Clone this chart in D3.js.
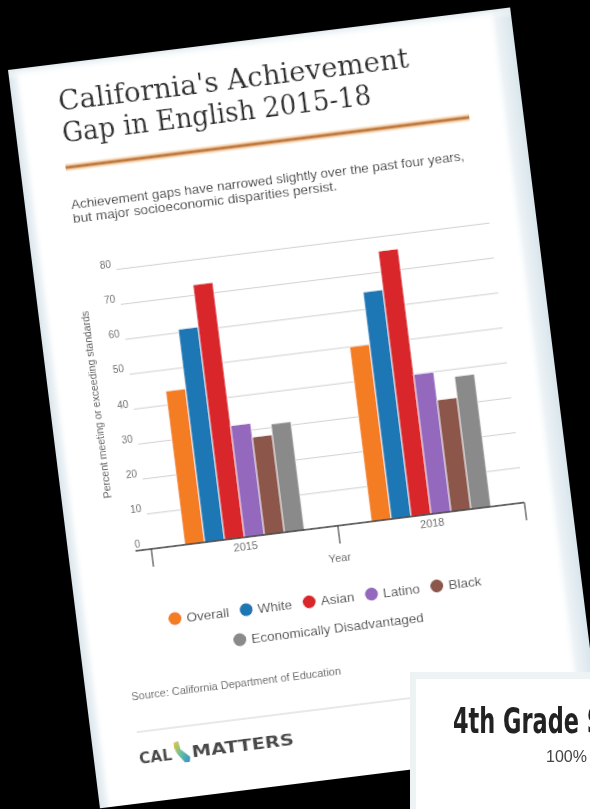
<!DOCTYPE html>
<html><head><meta charset="utf-8">
<script src="https://cdn.jsdelivr.net/npm/d3@7"></script>
<style>html,body{margin:0;padding:0;background:#000;} svg{display:block}</style>
</head><body>
<svg id="c" width="590" height="809"></svg>
<script>
// ---- data ----
const categories = ["2015", "2018"];
const seriesNames = ["Overall", "White", "Asian", "Latino", "Black", "Economically Disadvantaged"];
const overall = [44, 50];
const white = [61, 65];
const asian = [73, 76];
const latino = [32, 40];
const black = [28, 32];
const econDisadvantaged = [31, 38];
const yTicks = [0, 10, 20, 30, 40, 50, 60, 70, 80];
const gridValues = [10, 20, 30, 40, 50, 60, 70, 80];
const colors = ["#f47b20", "#1f77b4", "#d9262b", "#9467bd", "#8c564b", "#8a8a8a"];
const titleLines = ["California's Achievement", "Gap in English 2015-18"];
const subtitleLines = ["Achievement gaps have narrowed slightly over the past four years,", "but major socioeconomic disparities persist."];

const seriesValues = [overall, white, asian, latino, black, econDisadvantaged];
const series = seriesNames.map((n, i) => ({name: n, values: seriesValues[i], color: colors[i]}));

const svg = d3.select("#c");
svg.append("rect").attr("width", 590).attr("height", 809).attr("fill", "#000");
const defs = svg.append("defs");
defs.append("filter").attr("id", "soft").attr("x", "-5%").attr("y", "-5%").attr("width", "110%").attr("height", "110%")
  .append("feGaussianBlur").attr("stdDeviation", 0.55);
function lg(id, x1, y1, x2, y2, stops) {
  const g = defs.append("linearGradient").attr("id", id).attr("x1", x1).attr("y1", y1).attr("x2", x2).attr("y2", y2);
  stops.forEach(s => g.append("stop").attr("offset", s[0]).attr("stop-color", s[1]).attr("stop-opacity", s[2] === undefined ? 1 : s[2]));
}
lg("edgeL", 0, 0, 1, 0, [[0, "#dbe6ed"], [0.5, "#eef3f6"], [1, "#ffffff", 0]]);
lg("edgeR", 0, 0, 1, 0, [[0, "#ffffff", 0], [0.35, "#edf3f6"], [1, "#d9e5ec"]]);
lg("edgeT", 0, 0, 0, 1, [[0, "#e2ebf0"], [1, "#ffffff", 0]]);
lg("logoG", 0, 0, 1, 1, [[0, "#f4c430"], [0.45, "#6cc29a"], [1, "#2f8fcf"]]);

// ---- main card (photographed, rotated) ----
const CW = 506, CH = 744;
const card = svg.append("g").attr("transform", "translate(8,70) rotate(-7.1)").attr("filter", "url(#soft)");
card.append("rect").attr("width", CW).attr("height", CH).attr("fill", "#fff");
card.append("rect").attr("width", 14).attr("height", CH).attr("fill", "url(#edgeL)");
card.append("rect").attr("x", CW - 24).attr("width", 24).attr("height", CH).attr("fill", "url(#edgeR)");
card.append("rect").attr("width", CW).attr("height", 10).attr("fill", "url(#edgeT)");

// title
const titleWidths = [353, 311];
titleLines.forEach((t, i) => {
  card.append("text").attr("x", 46).attr("y", 47 + i * 32).text(t)
    .attr("font-family", "DejaVu Serif").attr("font-size", 28).attr("fill", "#333")
    .attr("textLength", titleWidths[i]).attr("lengthAdjust", "spacingAndGlyphs");
});
card.append("line").attr("x1", 45).attr("x2", 452).attr("y1", 104).attr("y2", 104)
  .attr("stroke", "#f6d9b8").attr("stroke-width", 7);
card.append("line").attr("x1", 45).attr("x2", 452).attr("y1", 104).attr("y2", 104)
  .attr("stroke", "#c07a40").attr("stroke-width", 3);

// subtitle
const subWidths = [396, 266];
subtitleLines.forEach((t, i) => {
  card.append("text").attr("x", 46).attr("y", 146 + i * 14).text(t)
    .attr("font-family", "Liberation Sans, Arial, sans-serif").attr("font-size", 12).attr("fill", "#4a4a4a")
    .attr("textLength", subWidths[i]).attr("lengthAdjust", "spacingAndGlyphs");
});

// chart
const plotL = 83, plotR = 459, axisY = 493, unit = 3.52;
const x0 = d3.scaleBand().domain(categories).range([plotL, plotR]).paddingInner(0).paddingOuter(0);
const x1 = d3.scaleBand().domain(seriesNames).range([x0.bandwidth() * 0.18, x0.bandwidth() * 0.82]).padding(0);
const y = d3.scaleLinear().domain([0, 80]).range([axisY, axisY - 80 * unit]);

card.append("g").selectAll("line").data(gridValues).join("line")
  .attr("x1", plotL).attr("x2", plotR).attr("y1", d => y(d)).attr("y2", d => y(d))
  .attr("stroke", "#cfcfcf").attr("stroke-width", 1);

const ya = card.append("g").attr("transform", "translate(67,0)")
  .call(d3.axisLeft(y).tickValues(yTicks).tickSize(0).tickFormat(d3.format("d")));
ya.select(".domain").remove();
ya.selectAll("text").attr("x", 0).attr("dy", -3).attr("text-anchor", "start")
  .attr("font-family", "Liberation Sans, Arial, sans-serif").attr("font-size", 10).attr("fill", "#666");

card.append("text").attr("transform", "translate(50,343) rotate(-90)").attr("text-anchor", "middle")
  .text("Percent meeting or exceeding standards")
  .attr("font-family", "Liberation Sans, Arial, sans-serif").attr("font-size", 10.5).attr("fill", "#555");

const groups = card.append("g").selectAll("g").data(categories).join("g")
  .attr("transform", d => `translate(${x0(d)},0)`);
groups.selectAll("rect").data((c, ci) => series.map(s => ({name: s.name, color: s.color, v: s.values[ci]}))).join("rect")
  .attr("x", d => x1(d.name)).attr("width", x1.bandwidth())
  .attr("y", d => y(d.v)).attr("height", d => axisY - y(d.v))
  .attr("fill", d => d.color).attr("stroke", "#fff").attr("stroke-width", 0.8);

// x axis
card.append("line").attr("x1", 67).attr("x2", plotR).attr("y1", axisY).attr("y2", axisY)
  .attr("stroke", "#333").attr("stroke-width", 1.6);
const boundaries = [plotL].concat(categories.map(c => x0(c) + x0.bandwidth()));
card.append("g").selectAll("line").data(boundaries).join("line")
  .attr("x1", d => d).attr("x2", d => d).attr("y1", axisY).attr("y2", axisY + 18)
  .attr("stroke", "#444").attr("stroke-width", 1.2);
const xa = card.append("g").attr("transform", `translate(0,${axisY})`)
  .call(d3.axisBottom(x0).tickSize(0).tickPadding(5));
xa.select(".domain").remove();
xa.selectAll("text").attr("font-family", "Liberation Sans, Arial, sans-serif").attr("font-size", 11).attr("fill", "#666");
card.append("text").attr("x", 269).attr("y", 529).attr("text-anchor", "middle").text("Year")
  .attr("font-family", "Liberation Sans, Arial, sans-serif").attr("font-size", 11).attr("fill", "#666");

// legend
function legendRow(items, cy) {
  const g = card.append("g");
  let x = 0;
  items.forEach(it => {
    g.append("circle").attr("cx", x + 6.3).attr("cy", cy).attr("r", 6.5).attr("fill", it.color);
    const t = g.append("text").attr("x", x + 18).attr("y", cy + 4.7).text(it.name)
      .attr("font-family", "Liberation Sans, Arial, sans-serif").attr("font-size", 13.5).attr("fill", "#555");
    x += 18 + t.node().getComputedTextLength() + 11;
  });
  const w = x - 11;
  g.attr("transform", `translate(${249 - w / 2},0)`);
}
legendRow(series.slice(0, 5), 565);
legendRow(series.slice(5), 594);

// source + footer
card.append("text").attr("x", 45).attr("y", 641).text("Source: California Department of Education")
  .attr("font-family", "Liberation Sans, Arial, sans-serif").attr("font-size", 10).attr("fill", "#666")
  .attr("textLength", 211).attr("lengthAdjust", "spacingAndGlyphs");
card.append("line").attr("x1", 46).attr("x2", 462).attr("y1", 673).attr("y2", 673)
  .attr("stroke", "#e0e0e0").attr("stroke-width", 1.5);
card.append("text").attr("x", 45).attr("y", 705).text("CAL")
  .attr("font-family", "DejaVu Sans, sans-serif").attr("font-weight", "bold").attr("font-size", 15).attr("fill", "#4a4a4a")
  .attr("textLength", 33).attr("lengthAdjust", "spacingAndGlyphs");
card.append("path").attr("d", "M81,688 L86,687 L87,695 L96,704 L95,709 L90,709 L83,699 L81,693 Z").attr("fill", "url(#logoG)");
card.append("text").attr("x", 98).attr("y", 705).text("MATTERS")
  .attr("font-family", "DejaVu Sans, sans-serif").attr("font-weight", "bold").attr("font-size", 15).attr("fill", "#4a4a4a")
  .attr("textLength", 103).attr("lengthAdjust", "spacingAndGlyphs");

// ---- second card (bottom right) ----
const c2 = svg.append("g").attr("filter", "url(#soft)");
c2.append("rect").attr("x", 410).attr("y", 672).attr("width", 190).attr("height", 150).attr("fill", "#edf2f5");
c2.append("rect").attr("x", 416).attr("y", 679).attr("width", 184).attr("height", 140).attr("fill", "#fff");
c2.append("text").attr("x", 453).attr("y", 733).text("4th Grade S")
  .attr("font-family", "Liberation Sans Narrow, DejaVu Sans Condensed, Arial Narrow, sans-serif").attr("font-weight", "bold")
  .attr("font-size", 35).attr("fill", "#222").attr("textLength", 150).attr("lengthAdjust", "spacingAndGlyphs");
c2.append("text").attr("x", 546).attr("y", 762).text("100%")
  .attr("font-family", "Liberation Sans, Arial, sans-serif").attr("font-size", 16).attr("fill", "#444");
</script>
</body></html>
